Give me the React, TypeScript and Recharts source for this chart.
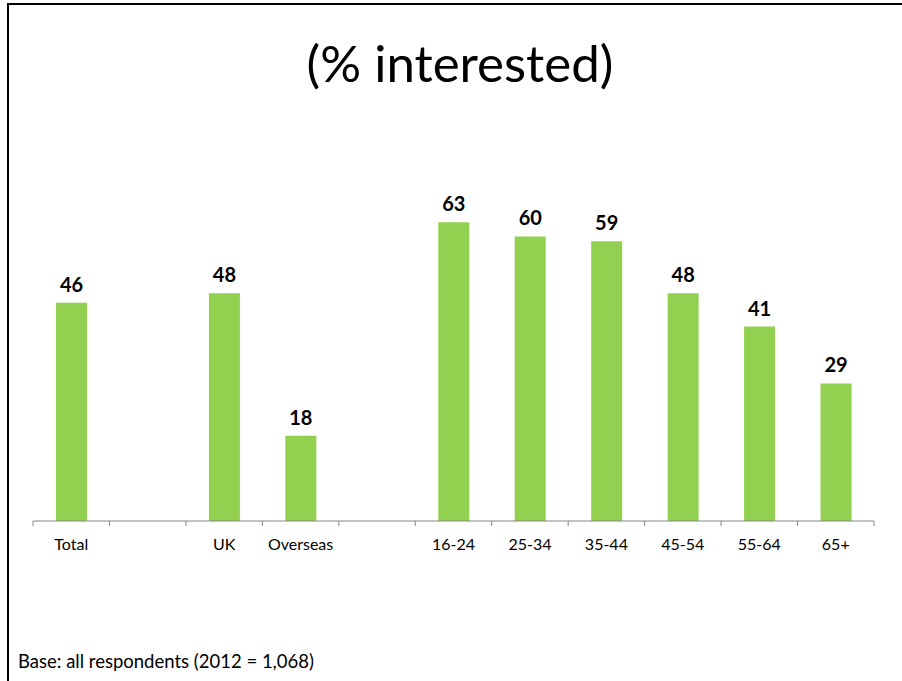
import React from "react";
import { BarChart, Bar, XAxis, YAxis, LabelList } from "recharts";

const categories = ["Total", "", "UK", "Overseas", "", "16-24", "25-34", "35-44", "45-54", "55-64", "65+"];
const interested = [46, null, 48, 18, null, 63, 60, 59, 48, 41, 29];

const data = categories.map((name, i) => ({ name, value: interested[i] }));

const FONT = "Lato, 'Open Sans', sans-serif";

// ticks on the numeric axis: integers are category edges, halves carry the labels
const edgeTicks: number[] = [];
for (let i = 0; i <= categories.length * 2; i++) edgeTicks.push(i / 2);

const EdgeTick = (props: any) => {
  const { x, y, payload } = props;
  const v = payload.value;
  if (Number.isInteger(v)) {
    return <line x1={x} x2={x} y1={y - 8} y2={y - 3} stroke="#868686" strokeWidth={1} />;
  }
  const label = categories[Math.floor(v)];
  return (
    <text x={x} y={y + 21} textAnchor="middle" fontSize={16} fill="#000" fontFamily={FONT}>
      {label}
    </text>
  );
};

export default function App() {
  return (
    <div style={{ position: "absolute", left: 0, top: 0, width: 902, height: 681, background: "#fff", overflow: "hidden" }}>
      <div
        style={{
          position: "absolute",
          left: 7,
          top: 3,
          width: 900,
          height: 690,
          borderLeft: "2px solid #000",
          borderTop: "2px solid #000",
        }}
      />
      <div
        style={{
          position: "absolute",
          left: 460,
          top: 33,
          transform: "translateX(-50%)",
          fontFamily: FONT,
          fontSize: 51,
          whiteSpace: "nowrap",
          lineHeight: "60px",
          color: "#000",
        }}
      >
        (% interested)
      </div>
      <div style={{ position: "absolute", left: 0, top: 0 }}>
        <BarChart
          width={902}
          height={681}
          data={data}
          margin={{ top: 189, right: 28, left: 33, bottom: 130 }}
        >
          <XAxis dataKey="name" xAxisId="cat" hide height={0} />
          <XAxis
            xAxisId="edges"
            type="number"
            dataKey={() => 0}
            domain={[0, categories.length]}
            ticks={edgeTicks}
            interval={0}
            tickLine={false}
            axisLine={{ stroke: "#868686", strokeWidth: 1 }}
            tick={<EdgeTick />}
            height={30}
            allowDataOverflow
          />
          <YAxis hide domain={[0, 70]} />
          <Bar dataKey="value" xAxisId="cat" fill="#92D050" barSize={31} isAnimationActive={false}>
            <LabelList
              dataKey="value"
              position="top"
              offset={11}
              fontSize={20}
              fontWeight="bold"
              fill="#000"
              fontFamily={FONT}
            />
          </Bar>
        </BarChart>
      </div>
      <div
        style={{
          position: "absolute",
          left: 18,
          top: 650,
          fontFamily: FONT,
          fontSize: 18.5,
          whiteSpace: "nowrap",
          color: "#000",
        }}
      >
        Base: all respondents (2012 = 1,068)
      </div>
    </div>
  );
}
